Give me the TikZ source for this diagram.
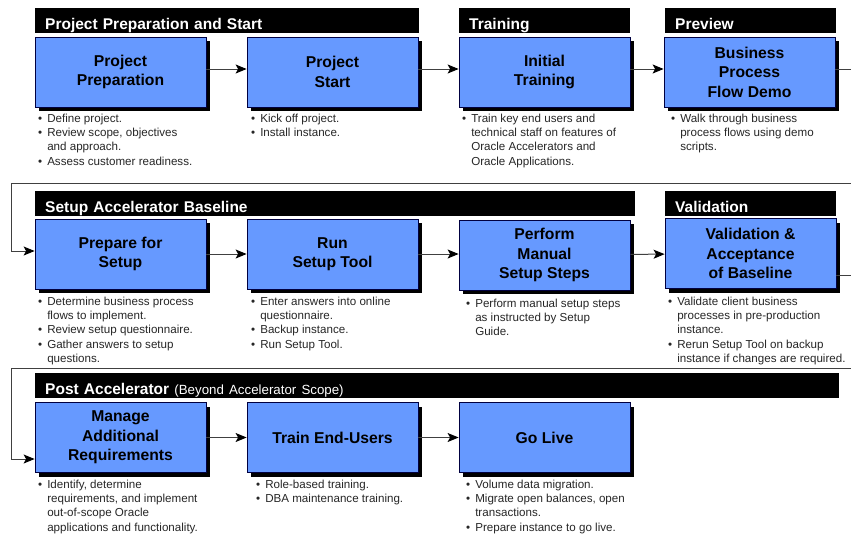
\documentclass[tikz,border=0pt]{standalone}
\usepackage{fontspec}
\setmainfont{Liberation Sans}
\usepackage{tikz}
\usetikzlibrary{positioning,arrows.meta,shadows}

\definecolor{stagefill}{HTML}{6699FF}
\definecolor{flowgray}{HTML}{404040}
\newcommand{\stagefont}{\fontsize{15.7}{19.5}\selectfont\bfseries}
\newcommand{\barfont}{\fontsize{15.5}{19}\selectfont\bfseries}
\newcommand{\notefont}{\fontsize{11.6}{14.3}\selectfont}
\newcommand{\notelist}[1]{\begin{tabular}{@{}l@{\hspace{5pt}}l@{}}#1\end{tabular}}

\begin{document}
\begin{tikzpicture}[x=1pt, y=-1pt,
  stage/.style={draw=black!75!blue, line width=0.8pt, fill=stagefill,
    minimum width=171pt, minimum height=70pt, align=center, font=\stagefont,
    drop shadow={shadow xshift=4pt, shadow yshift=-4pt, fill=black, opacity=1}},
  bar/.style={fill=black, text=white, anchor=north west, inner xsep=10pt,
    inner ysep=0pt, text height=21.5pt, text depth=3.5pt, font=\barfont,
    align=left, text width=#1},
  notes/.style={anchor=north west, inner sep=0pt, font=\notefont, text=black!85},
  flow/.style={draw=flowgray, line width=1pt,
    -{Stealth[length=11pt, width=9pt, inset=2.5pt, color=black]}}
]
\useasboundingbox (0,0) rectangle (851,533);
\clip (0,0) rectangle (851,533);

% Phase bars
\node[bar=364pt] (hdprep) at (35,8) {Project Preparation and Start};
\node[bar=151pt] (hdtrain) at (459,8) {Training};
\node[bar=151pt] (hdpreview) at (665,8) {Preview};
\node[bar=580pt] (hdsetup) at (35,191) {Setup Accelerator Baseline};
\node[bar=151pt] (hdvalid) at (665,191) {Validation};
\node[bar=784pt] (hdpost) at (35,373)
  {Post Accelerator {\mdseries\fontsize{13.3}{16}\selectfont (Beyond Accelerator Scope)}};

% Row 1
\node[stage] (prep) at (120.5,72) {Project\\Preparation};
\node[stage] (start) at (332.5,72) {Project\\Start};
\node[stage] (train) at (544.5,72) {Initial\\Training};
\node[stage] (demo) at (749.5,72) {Business\\Process\\Flow Demo};

% Row 2
\node[stage] (setupprep) at (120.5,254) {Prepare for\\Setup};
\node[stage] (runtool) at (332.5,254) {Run\\Setup Tool};
\node[stage] (manual) at (544.5,255) {Perform\\Manual\\Setup Steps};
\node[stage] (valid) at (750.5,253.5) {Validation \&\\Acceptance\\of Baseline};

% Row 3
\node[stage] (manage) at (120.5,437.5) {Manage\\Additional\\Requirements};
\node[stage] (enduser) at (332.5,437.5) {Train End-Users};
\node[stage] (golive) at (544.5,437.5) {Go Live};

% Task notes under each stage
\node[notes] (prepnotes) at (38,112) {\notelist{
  \textbullet & Define project.\\
  \textbullet & Review scope, objectives\\
   & and approach.\\
  \textbullet & Assess customer readiness.}};
\node[notes] (startnotes) at (251,112) {\notelist{
  \textbullet & Kick off project.\\
  \textbullet & Install instance.}};
\node[notes] (trainnotes) at (462,112) {\notelist{
  \textbullet & Train key end users and\\
   & technical staff on features of\\
   & Oracle Accelerators and\\
   & Oracle Applications.}};
\node[notes] (demonotes) at (671,112) {\notelist{
  \textbullet & Walk through business\\
   & process flows using demo\\
   & scripts.}};
\node[notes] (setupprepnotes) at (38,295) {\notelist{
  \textbullet & Determine business process\\
   & flows to implement.\\
  \textbullet & Review setup questionnaire.\\
  \textbullet & Gather answers to setup\\
   & questions.}};
\node[notes] (runtoolnotes) at (251,295) {\notelist{
  \textbullet & Enter answers into online\\
   & questionnaire.\\
  \textbullet & Backup instance.\\
  \textbullet & Run Setup Tool.}};
\node[notes] (manualnotes) at (466,297) {\notelist{
  \textbullet & Perform manual setup steps\\
   & as instructed by Setup\\
   & Guide.}};
\node[notes] (validnotes) at (668,295) {\notelist{
  \textbullet & Validate client business\\
   & processes in pre-production\\
   & instance.\\
  \textbullet & Rerun Setup Tool on backup\\
   & instance if changes are required.}};
\node[notes] (managenotes) at (38,478) {\notelist{
  \textbullet & Identify, determine\\
   & requirements, and implement\\
   & out-of-scope Oracle\\
   & applications and functionality.}};
\node[notes] (endusernotes) at (256,478) {\notelist{
  \textbullet & Role-based training.\\
  \textbullet & DBA maintenance training.}};
\node[notes] (golivenotes) at (466,478) {\notelist{
  \textbullet & Volume data migration.\\
  \textbullet & Migrate open balances, open\\
   & transactions.\\
  \textbullet & Prepare instance to go live.}};

% Flow within rows
\draw[flow] ([yshift=3pt]prep.east) -- ([yshift=3pt]start.west);
\draw[flow] ([yshift=3pt]start.east) -- ([yshift=3pt]train.west);
\draw[flow] ([yshift=3pt]train.east) -- ([yshift=3pt]demo.west);
\draw[flow] (setupprep) -- (runtool);
\draw[flow] (runtool.east) -- (manual.west |- runtool.east);
\draw[flow] (manual) -- (valid);
\draw[flow] (manage) -- (enduser);
\draw[flow] (enduser) -- (golive);

% Wrap-around from one row to the next
\coordinate (wrapa) at (11,183);
\coordinate (wrapb) at (11,368);
\draw[flow] ([yshift=3pt]demo.east) -- ++(25,0) |- (wrapa)
  |- ([yshift=3pt]setupprep.west);
\draw[flow] ([yshift=-22pt]valid.east) -- ++(25,0) |- (wrapb)
  |- ([yshift=-21.5pt]manage.west);
\end{tikzpicture}
\end{document}
